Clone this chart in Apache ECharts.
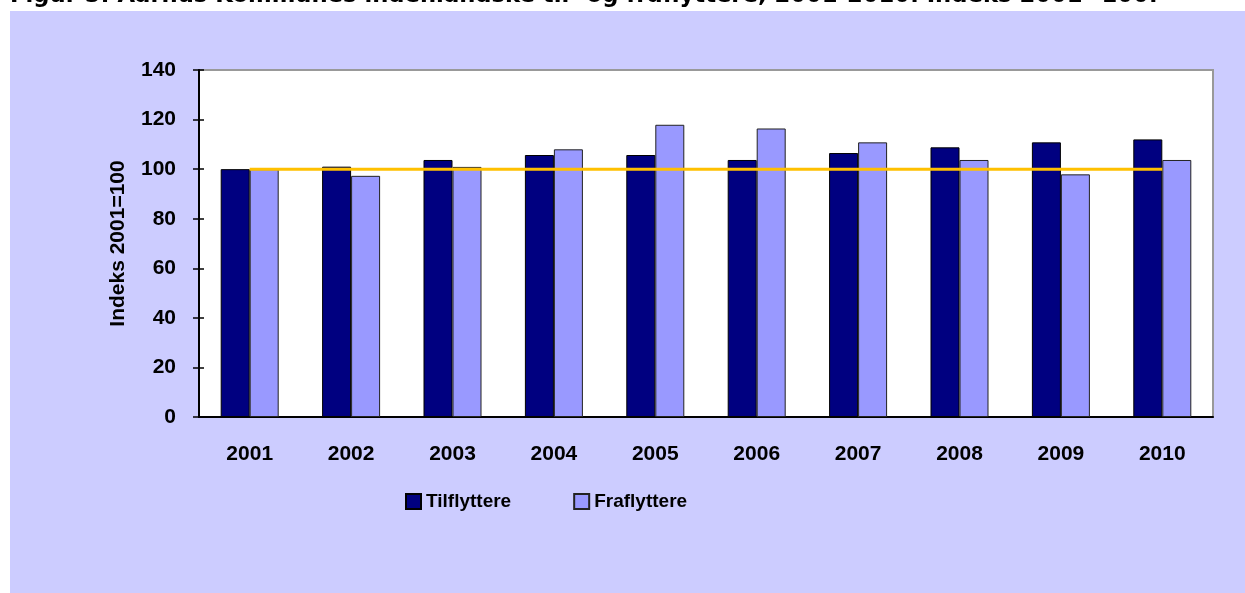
<!DOCTYPE html>
<html>
<head>
<meta charset="utf-8">
<script src="https://cdn.jsdelivr.net/npm/echarts@6/dist/echarts.min.js"></script>
<style>
  html, body { margin: 0; padding: 0; background: #fff; }
  #chart { width: 1245px; height: 593px; }
</style>
</head>
<body>
<div id="chart"></div>
<script>
const years = ['2001', '2002', '2003', '2004', '2005', '2006', '2007', '2008', '2009', '2010'];
const tilflyttere = [100, 101, 103.7, 105.7, 105.7, 103.7, 106.5, 108.8, 110.8, 112];
const fraflyttere = [100, 97.3, 100.9, 108, 117.9, 116.4, 110.8, 103.7, 97.9, 103.7];
const indeksLinje = [100, 100, 100, 100, 100, 100, 100, 100, 100, 100];
const titleText = 'Figur 5: Aarhus Kommunes indenlandske til- og fraflyttere, 2001-2010. Indeks 2001=100.';

const chart = echarts.init(document.getElementById('chart'));

const font = '"Liberation Sans", Arial, sans-serif';

chart.setOption({
  backgroundColor: '#CCCCFF',
  animation: false,
  graphic: [
    { type: 'rect', shape: { x: 0, y: 0, width: 10, height: 593 }, style: { fill: '#fff' }, z: 1 },
    { type: 'rect', shape: { x: 0, y: 0, width: 1245, height: 11 }, style: { fill: '#fff' }, z: 1 },
    {
      type: 'text', left: 10, top: -15, z: 2,
      style: { text: titleText, fill: '#000', font: 'bold 22.7px "DejaVu Sans", Verdana, sans-serif' }
    }
  ],
  grid: {
    left: 199, right: 32, top: 70, bottom: 176,
    show: true, backgroundColor: '#fff', borderColor: '#999', borderWidth: 2
  },
  legend: {
    left: 400, top: 487,
    icon: 'rect',
    itemWidth: 15, itemHeight: 15, itemGap: 62,
    data: ['Tilflyttere', 'Fraflyttere'],
    textStyle: { fontFamily: font, fontWeight: 'bold', fontSize: 19, color: '#000' }
  },
  xAxis: [
    {
      type: 'category', data: years,
      axisLine: { lineStyle: { color: '#000', width: 2 } },
      axisTick: { length: 6, lineStyle: { color: '#000', width: 1.5 } },
      axisLabel: { margin: 27, color: '#000', fontFamily: font, fontWeight: 'bold', fontSize: 21 }
    },
    {
      type: 'category', data: years, position: 'bottom',
      axisLine: { show: false },
      axisTick: { inside: true, length: 6, lineStyle: { color: '#000', width: 1.5 } },
      axisLabel: { show: false }
    }
  ],
  yAxis: [
    {
      type: 'value', min: 0, max: 140, interval: 20,
      name: 'Indeks 2001=100', nameLocation: 'middle', nameGap: 70, nameRotate: 90,
      nameTextStyle: { color: '#000', fontFamily: font, fontWeight: 'bold', fontSize: 21 },
      splitLine: { show: false },
      axisLine: { show: true, lineStyle: { color: '#000', width: 2 } },
      axisTick: { show: true, length: 6, lineStyle: { color: '#000', width: 1.5 } },
      axisLabel: { margin: 23, color: '#000', fontFamily: font, fontWeight: 'bold', fontSize: 21 }
    },
    {
      type: 'value', min: 0, max: 140, interval: 20, position: 'left',
      splitLine: { show: false },
      axisLine: { show: false },
      axisTick: { show: true, inside: true, length: 5, lineStyle: { color: '#000', width: 1.5 } },
      axisLabel: { show: false }
    }
  ],
  series: [
    {
      name: 'Tilflyttere', type: 'bar', data: tilflyttere,
      barWidth: 29, barGap: '0%',
      itemStyle: { color: '#000080', borderColor: '#000', borderWidth: 1 }
    },
    {
      name: 'Fraflyttere', type: 'bar', data: fraflyttere,
      barWidth: 29, barGap: '0%',
      itemStyle: { color: '#9999FF', borderColor: '#222', borderWidth: 1 }
    },
    {
      name: 'Indeks', type: 'line', data: indeksLinje,
      symbol: 'none', z: 5,
      lineStyle: { color: '#FFC000', width: 3 }
    }
  ]
});
</script>
</body>
</html>
